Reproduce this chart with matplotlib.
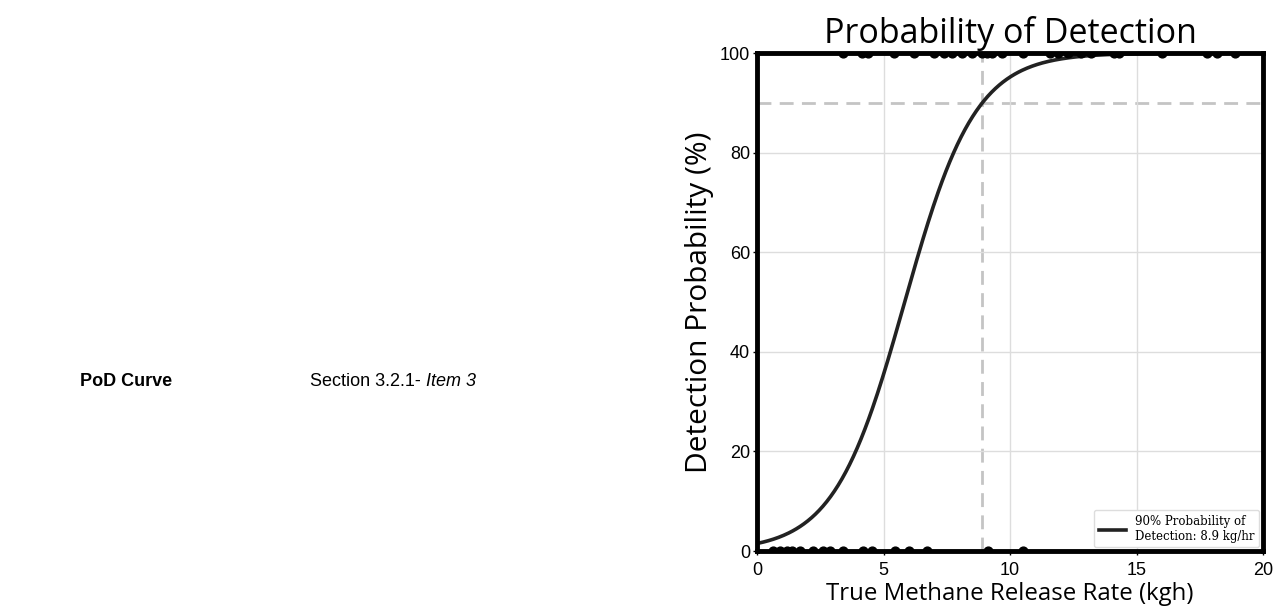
import numpy as np
import matplotlib
matplotlib.use("Agg")
import matplotlib.pyplot as plt

# Detected (100%) release rates, kg/h
detected_rates = [3.4, 4.15, 4.4, 5.4, 6.2, 7.0, 7.4, 7.7, 8.1, 8.5, 8.9, 9.1, 9.3,
                  9.7, 10.5, 11.6, 11.9, 12.3, 12.8, 13.2, 14.1, 14.3, 16.0, 17.8,
                  18.2, 18.9]
# Non-detected (0%) release rates, kg/h
missed_rates = [0.63, 0.9, 1.2, 1.4, 1.7, 2.2, 2.6, 2.9, 3.4, 4.2, 4.55, 5.45,
                6.0, 6.7, 9.15, 10.5]
# Fitted logistic PoD model parameters
logit_intercept = -4.18
logit_slope = 0.716
pod90_rate = 8.9
pod90_level = 90

x_ticks = [0, 5, 10, 15, 20]
y_ticks = [0, 20, 40, 60, 80, 100]

fig = plt.figure(figsize=(12.85, 6.10), dpi=100)
ax = fig.add_axes([757/1285, 59/610, 506/1285, 498/610])

xs = np.linspace(0, 20, 400)
pod = 100 / (1 + np.exp(-(logit_intercept + logit_slope * xs)))

ax.grid(True, color="#dddddd", linewidth=1.0, zorder=0)
ax.axvline(pod90_rate, color="#c4c4c4", linestyle=(0, (5, 3)), linewidth=2, zorder=1)
ax.axhline(pod90_level, color="#c4c4c4", linestyle=(0, (5, 3)), linewidth=2, zorder=1)
ax.plot(xs, pod, color="#222222", linewidth=2.6, zorder=3,
        label="90% Probability of\nDetection: 8.9 kg/hr")
ax.scatter(detected_rates, [100] * len(detected_rates), s=40, color="black", zorder=4)
ax.scatter(missed_rates, [0] * len(missed_rates), s=40, color="black", zorder=4)

ax.set_xlim(0, 20)
ax.set_ylim(0, 100)
ax.set_xticks(x_ticks)
ax.set_yticks(y_ticks)
ax.tick_params(labelsize=13, length=3, width=1)
ax.tick_params(axis="x", pad=5)
ax.tick_params(axis="y", pad=2)
for lab in ax.get_xticklabels() + ax.get_yticklabels():
    lab.set_fontfamily("Liberation Sans")
for sp in ax.spines.values():
    sp.set_linewidth(3.5)
    sp.set_color("black")
    sp.set_zorder(5)

ax.set_xlabel("True Methane Release Rate (kgh)", fontsize=17.3, family="Open Sans", labelpad=2)
ax.set_ylabel("Detection Probability (%)", fontsize=21.5, family="Open Sans", labelpad=4)
ax.set_title("Probability of Detection", fontsize=24.5, family="Open Sans", pad=7)

leg = ax.legend(loc="lower right", prop={"family": "DejaVu Serif", "size": 8.5},
                frameon=True, fancybox=True, framealpha=1, edgecolor="#dddddd",
                handlelength=2.3, borderpad=0.4, borderaxespad=0.3)

fig.text(80/1285, 1 - 382/610, "PoD Curve", fontsize=13, fontweight="bold",
         family="Liberation Sans", va="center", ha="left")
t = fig.text(310/1285, 1 - 382/610, "Section 3.2.1- ", fontsize=13,
             family="Liberation Sans", va="center", ha="left")
fig.canvas.draw()
bb = t.get_window_extent()
fig.text(bb.x1 / 1285, 1 - 382/610, "Item 3", fontsize=13, style="italic",
         family="Liberation Sans", va="center", ha="left")

fig.savefig("out.png", dpi=100)
